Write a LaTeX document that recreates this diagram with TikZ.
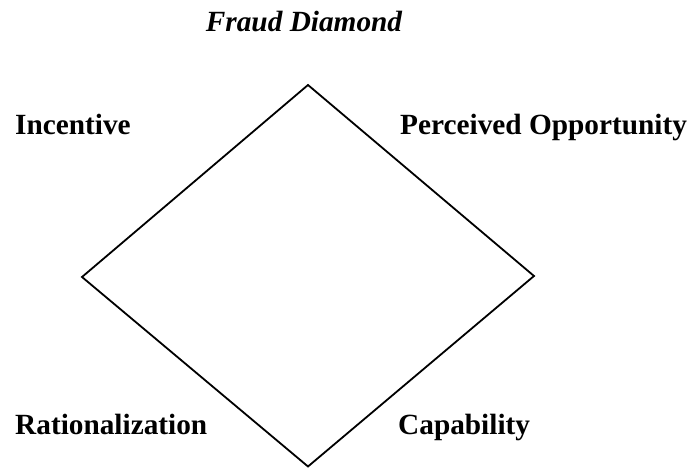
\documentclass[tikz,border=0pt]{standalone}
\usepackage{fontspec}
\setmainfont{Liberation Serif}
\begin{document}
\begin{tikzpicture}[x=1pt,y=1pt,
  label/.style={anchor=base west,inner sep=0pt,font=\fontsize{29.3}{34}\selectfont\bfseries},
  edge/.style={line width=1.8pt,line join=miter}]
  \useasboundingbox (0,0) rectangle (689,468);
  % corners of the diamond
  \coordinate (top) at (308,383);
  \coordinate (right) at (534,192);
  \coordinate (bottom) at (308,1.5);
  \coordinate (left) at (82,191);
  \draw[edge] (top) -- (right) -- (bottom) -- (left) -- cycle;
  % title and corner labels
  \node[label,font=\fontsize{29.3}{34}\selectfont\bfseries\itshape,anchor=base] (title) at (304,436) {Fraud Diamond};
  \node[label] (incentive) at (15,333) {Incentive};
  \node[label] (opportunity) at (400,333) {Perceived Opportunity};
  \node[label] (rationalization) at (15,33) {Rationalization};
  \node[label] (capability) at (398,33) {Capability};
\end{tikzpicture}
\end{document}
